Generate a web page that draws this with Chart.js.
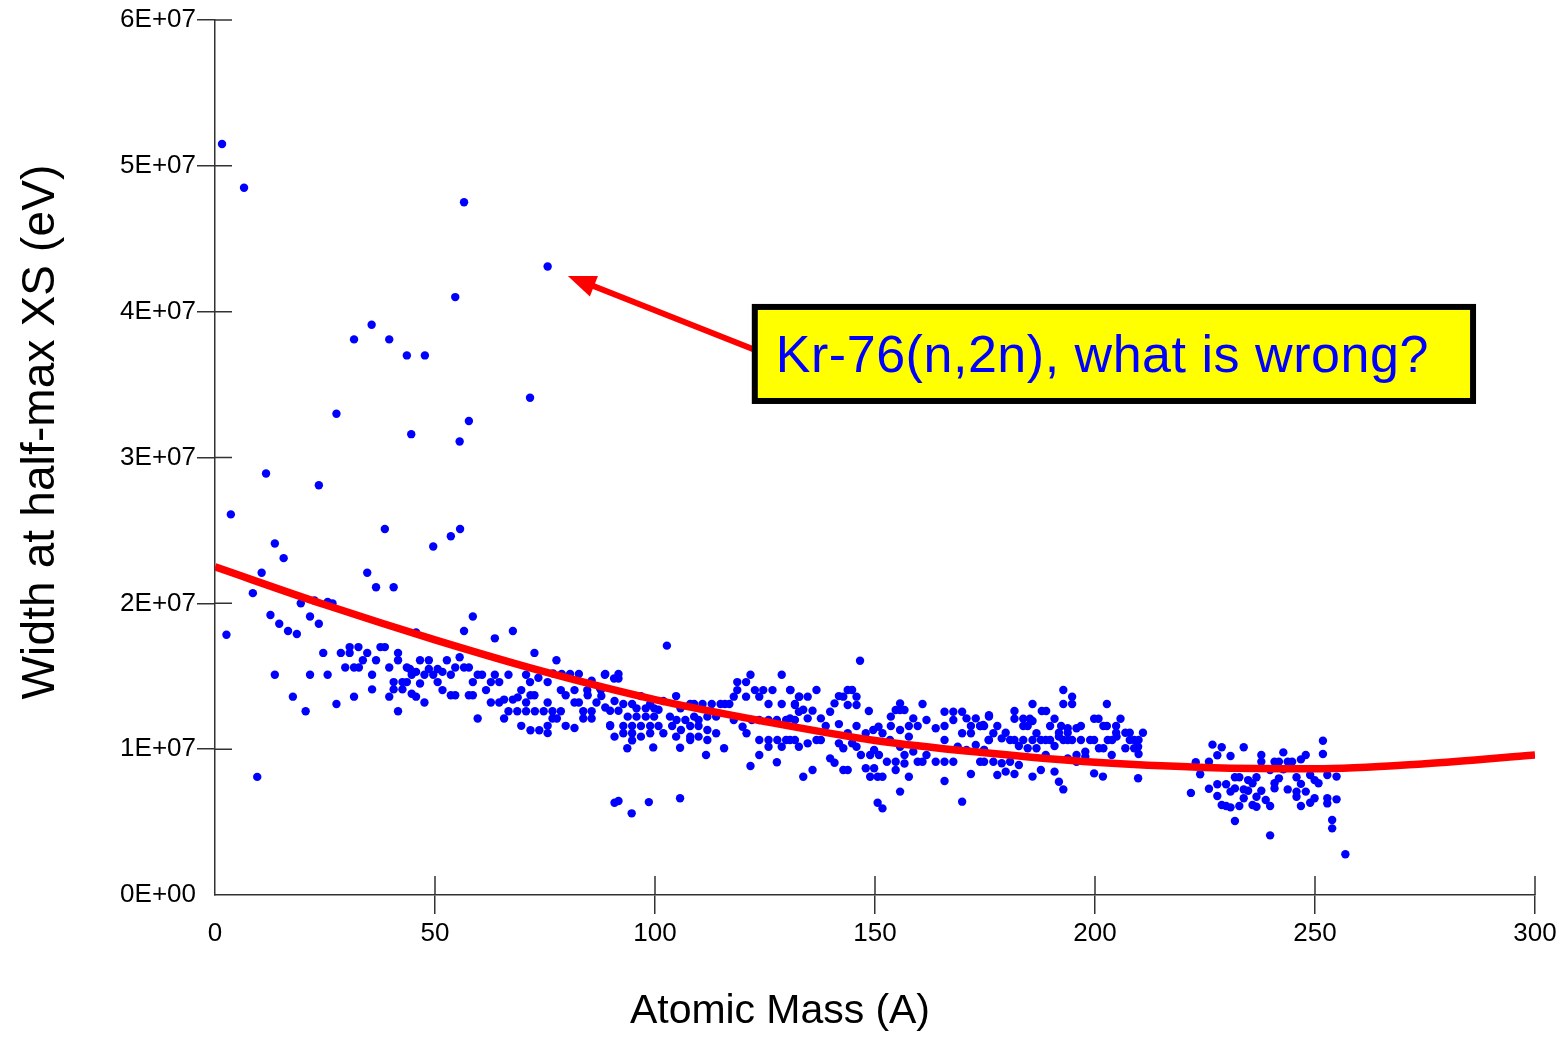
<!DOCTYPE html>
<html><head><meta charset="utf-8">
<script src="https://cdn.jsdelivr.net/npm/chart.js@4/dist/chart.umd.min.js"></script>
<style>html,body{margin:0;padding:0;background:#fff;}#wrap{width:1565px;height:1037px;}</style>
</head><body><div id="wrap"><canvas id="c" width="1565" height="1037"></canvas></div>
<script>
// ---- data: atomic mass A and width at half max (units of 1E+07 eV) ----
const massA = [
1.6,6.6,56.6,75.6,54.6,35.6,31.6,39.6,43.6,47.7,
71.6,27.6,57.7,44.6,55.6,11.6,23.6,3.6,38.6,55.7,
53.6,49.6,13.6,15.6,
10.6,34.6,36.6,40.6,8.6,19.5,22.6,25.6,26.7,12.6,
21.6,14.6,23.6,16.6,18.6,2.6,45.7,24.6,28.6,30.6,
30.6,32.6,34.6,33.6,36.6,37.6,38.6,41.6,41.6,29.6,
31.6,32.7,39.6,43.6,35.7,44.7,45.7,13.6,21.6,25.6,
40.6,42.6,43.6,46.6,35.7,40.6,42.6,44.7,45.7,17.7,
31.6,39.6,27.6,20.6,41.6,9.6,
58.6,56.6,63.6,67.7,72.6,55.6,77.6,46.6,48.6,52.7,
44.3,48.6,50.6,51.7,54.6,56.6,57.7,47.6,49.6,53.6,
59.7,60.7,63.6,66.7,70.7,73.5,76.8,78.8,80.7,82.7,
85.6,88.6,50.6,58.6,62.7,64.6,71.6,75.6,51.7,61.6,
69.6,78.6,81.7,84.6,87.7,53.6,54.6,57.7,58.6,71.7,
72.6,79.7,84.7,47.6,62.7,64.6,65.7,67.7,68.8,70.7,
75.6,81.7,82.7,86.7,66.7,68.7,70.7,72.7,74.7,76.7,
78.6,83.7,85.6,59.7,65.7,76.7,77.7,83.7,85.6,89.8,
69.6,79.7,75.6,81.7,71.7,73.7,75.6,
102.7,88.7,90.7,91.7,91.7,87.5,87.8,90.8,92.8,94.8,
95.8,96.8,97.9,98.9,99.8,100.8,101.9,104.8,105.8,108.0,
108.9,110.8,112.9,114.9,115.9,116.9,117.9,118.7,118.7,120.7,
121.7,120.7,122.7,123.7,124.6,125.8,126.7,128.8,128.8,130.8,
131.8,132.8,
88.7,89.8,91.7,93.8,95.8,97.9,99.8,103.4,104.9,106.9,
108.9,109.9,111.9,113.9,89.8,92.8,94.8,96.8,98.9,100.8,
103.9,105.9,108.0,109.9,111.9,117.9,119.9,122.0,123.7,125.8,
127.7,129.8,131.8,90.8,92.8,94.8,96.8,98.9,101.9,104.8,
108.0,109.9,111.9,113.9,120.8,123.7,125.8,127.8,129.8,131.8,
94.8,108.0,93.7,99.6,105.7,111.6,115.7,123.7,125.8,128.8,
121.7,127.7,90.8,91.7,94.7,98.6,105.7,
146.6,130.7,132.7,134.7,136.7,131.8,133.7,135.8,132.7,134.7,
130.7,137.7,138.8,139.8,140.8,141.8,142.8,143.8,144.8,145.8,
143.8,145.8,148.6,141.8,143.8,145.8,147.9,149.6,150.8,151.7,
153.6,154.7,155.7,155.7,156.7,153.6,155.7,157.7,158.7,159.7,
160.8,161.7,163.8,165.8,165.8,167.8,167.8,169.8,170.8,171.8,
172.9,173.9,174.8,175.9,169.8,171.8,
130.7,132.7,134.7,136.7,137.7,141.8,142.8,144.8,145.8,146.8,
148.9,150.9,149.8,153.4,155.7,157.7,158.7,159.7,160.8,161.7,
163.8,165.8,165.8,167.8,168.8,170.8,172.9,174.8,175.9,154.7,
152.7,156.7,156.7,139.8,140.8,142.8,143.8,147.9,149.8,148.9,
150.6,151.7,154.7,157.7,133.7,135.8,155.7,165.8,171.8,169.8,
150.6,151.7,
175.9,181.7,187.9,188.9,185.8,192.8,192.8,194.8,194.8,202.7,
181.7,183.7,185.2,185.8,183.7,184.7,190.8,189.8,192.3,193.8,
193.8,191.8,195.8,196.8,199.8,200.8,201.9,202.7,204.8,205.8,
204.8,206.9,207.9,208.9,210.9,209.9,
173.9,174.6,176.9,177.8,178.8,179.7,180.7,181.7,182.7,183.7,
184.7,185.8,186.7,186.7,187.7,188.8,189.8,190.8,191.8,192.8,
193.8,194.8,196.8,197.8,198.9,199.8,200.9,202.9,203.9,204.9,
206.9,207.9,208.9,209.8,209.9,203.8,201.9,195.8,197.8,175.8,
174.8,
173.9,174.8,176.9,178.8,180.7,182.7,177.8,179.7,181.7,185.8,
187.7,188.8,190.8,191.8,192.8,193.8,195.8,199.8,201.8,209.8,
221.8,222.9,223.9,225.9,225.9,226.7,227.8,228.8,227.8,227.8,
228.8,229.8,229.8,230.8,230.8,230.8,231.8,231.8,231.8,232.8,
232.8,233.8,233.8,233.8,234.8,234.8,235.8,235.8,236.7,236.7,
236.7,237.8,237.8,237.8,238.8,239.8,239.8,239.8,240.8,240.8,
240.8,241.8,241.8,242.8,242.8,243.8,243.8,244.8,245.8,245.8,
245.8,246.8,246.8,246.8,247.9,247.9,248.9,248.9,249.9,249.9,
250.8,251.8,251.8,252.8,252.8,252.8,253.9,253.9,254.9,254.9,
256.9
];
const widthE7 = [
5.15,4.85,4.75,4.31,4.10,3.91,3.81,3.81,3.70,3.70,
3.41,3.30,3.25,3.16,3.11,2.89,2.81,2.61,2.51,2.51,
2.46,2.39,2.41,2.31,
2.21,2.21,2.11,2.11,2.07,2.00,2.02,2.01,2.00,1.92,
1.91,1.86,1.86,1.81,1.79,1.785,1.80,1.66,1.66,1.70,
1.66,1.70,1.66,1.61,1.61,1.70,1.70,1.66,1.61,1.56,
1.56,1.56,1.56,1.56,1.51,1.51,1.53,1.51,1.51,1.51,
1.46,1.46,1.46,1.45,1.41,1.41,1.41,1.38,1.36,1.36,
1.36,1.36,1.31,1.26,1.26,0.81,
1.91,1.81,1.76,1.81,1.66,1.63,1.61,1.61,1.61,1.61,
1.55,1.55,1.55,1.53,1.56,1.56,1.56,1.51,1.51,1.51,
1.51,1.51,1.51,1.51,1.51,1.49,1.52,1.515,1.515,1.515,
1.47,1.51,1.46,1.46,1.46,1.46,1.46,1.46,1.405,1.405,
1.405,1.405,1.405,1.405,1.405,1.37,1.37,1.37,1.37,1.37,
1.37,1.37,1.37,1.32,1.32,1.32,1.34,1.34,1.355,1.32,
1.32,1.32,1.32,1.32,1.26,1.26,1.26,1.26,1.26,1.26,
1.26,1.26,1.26,1.21,1.21,1.21,1.21,1.21,1.21,1.165,
1.16,1.16,1.16,1.145,1.13,1.13,1.11,
1.71,1.515,1.485,1.515,1.485,1.417,1.364,1.33,1.31,1.31,
1.28,1.364,1.28,1.31,1.28,1.27,1.33,1.364,1.28,1.31,
1.31,1.31,1.31,1.31,1.31,1.31,1.36,1.46,1.405,1.46,
1.51,1.36,1.405,1.36,1.405,1.31,1.405,1.51,1.31,1.405,
1.31,1.36,
1.286,1.263,1.263,1.223,1.223,1.223,1.223,1.223,1.20,1.20,
1.223,1.20,1.223,1.223,1.159,1.159,1.159,1.159,1.159,1.159,
1.159,1.131,1.159,1.159,1.131,1.20,1.154,1.20,1.20,1.20,
1.20,1.20,1.20,1.086,1.109,1.109,1.086,1.109,1.109,1.086,
1.086,1.086,1.063,1.109,1.109,1.063,1.063,1.063,1.063,1.063,
1.06,1.063,1.006,1.012,1.01,0.96,1.006,0.96,1.017,1.017,
0.885,0.91,0.633,0.645,0.56,0.637,0.663,
1.606,1.406,1.36,1.36,1.406,1.303,1.27,1.264,1.257,1.211,
1.211,1.211,1.159,1.257,1.314,1.364,1.36,1.406,1.406,1.36,
1.303,1.303,1.262,1.172,1.109,1.159,1.109,1.131,1.154,1.109,
1.223,1.269,1.314,1.269,1.269,1.159,1.131,1.159,1.211,1.159,
1.31,1.2,1.143,1.257,1.159,1.257,1.2,1.257,1.211,1.159,
1.211,1.159,1.159,1.223,1.109,1.109,
1.063,1.017,1.04,1.063,1.063,1.04,1.006,1.04,1.017,0.96,
0.96,0.96,0.994,1.063,1.017,1.086,0.983,0.914,0.914,0.96,
0.914,1.063,0.914,0.914,1.017,0.994,1.029,0.994,1.063,0.914,
0.914,0.96,0.902,0.937,0.907,0.857,0.857,0.869,0.869,0.811,
0.811,0.811,0.857,0.811,0.811,0.857,0.709,0.782,0.83,0.64,
0.633,0.594,
1.233,1.262,1.262,1.262,1.31,1.406,1.31,1.31,1.36,1.31,
1.209,1.209,1.209,1.193,1.159,1.159,1.209,1.159,1.159,1.143,
1.113,1.113,1.143,1.159,1.209,1.209,1.159,1.159,1.159,1.209,
1.113,1.113,1.113,1.063,1.113,1.063,
1.159,1.166,1.109,1.159,1.074,1.113,1.063,1.063,1.022,1.063,
1.006,1.063,1.109,1.006,1.063,1.063,1.063,1.022,1.086,1.063,
1.063,1.063,1.063,0.983,1.063,1.063,1.006,1.063,1.063,1.086,
1.006,1.063,1.006,1.017,0.967,0.96,1.006,0.96,0.948,1.063,
0.994,
0.914,0.914,0.914,0.903,0.914,0.891,0.823,0.846,0.830,0.812,
0.857,0.960,0.846,0.777,0.724,0.937,0.914,0.834,0.812,0.801,
0.70,0.91,0.828,0.914,0.729,1.031,0.958,1.013,0.759,0.679,
0.617,0.759,0.61,0.953,0.709,0.601,0.807,0.731,0.507,0.807,
0.61,1.013,0.724,0.663,0.788,0.715,0.766,0.617,0.807,0.674,
0.605,0.96,0.914,0.715,0.651,0.857,0.61,0.409,0.914,0.766,
0.731,0.914,0.8,0.978,0.862,0.914,0.724,0.914,0.807,0.709,
0.674,0.93,0.762,0.61,0.96,0.709,0.823,0.633,0.788,0.663,
0.766,1.058,0.967,0.823,0.663,0.628,0.514,0.457,0.812,0.656,
0.279
];
// fitted trend curve
const curveA   = [0, 25, 50, 75, 100, 125, 150, 175, 200, 225, 250, 275, 300];
const curveE7  = [2.25, 1.99, 1.75, 1.53, 1.34, 1.19, 1.06, 0.975, 0.91, 0.875, 0.865, 0.90, 0.96];
const Y_UNIT = 1e7;
// axes
const xTicks = [0, 50, 100, 150, 200, 250, 300];
const xTickLabels = ['0', '50', '100', '150', '200', '250', '300'];
const yTicksE7 = [0, 1, 2, 3, 4, 5, 6];
const yTickLabels = ['0E+00', '1E+07', '2E+07', '3E+07', '4E+07', '5E+07', '6E+07'];
const xTitle = 'Atomic Mass (A)';
const yTitle = 'Width at half-max XS (eV)';
// annotation (data coordinates: A, 1E+07 eV)
const noteText = 'Kr-76(n,2n), what is wrong?';
const noteArrowTip = [80.2, 4.245];
const noteArrowTail = [122.5, 3.74];
const noteBox = [122.0, 4.053, 286.6, 3.367];

const AXIS_COLOR = '#333333';
const FONT = '"Liberation Sans", Arial, sans-serif';
const TICK_FONT = {family: FONT, size: 26};

const scatterData = massA.map((a, i) => ({x: a, y: widthE7[i] * Y_UNIT}));
const curveData = curveA.map((a, i) => ({x: a, y: curveE7[i] * Y_UNIT}));

function fitText(ctx, text, target) {
  ctx.letterSpacing = '0px';
  const w0 = ctx.measureText(text).width;
  if ('letterSpacing' in ctx) {
    ctx.letterSpacing = ((target - w0) / text.length).toFixed(2) + 'px';
    return 1;
  }
  return target / w0;
}

const innerTicks = {
  id: 'innerTicks',
  beforeDatasetsDraw(chart) {
    const {ctx, chartArea: a} = chart;
    const x = chart.scales.x, y = chart.scales.y;
    ctx.save();
    ctx.strokeStyle = AXIS_COLOR; ctx.lineWidth = 1.5;
    ctx.beginPath();
    y.ticks.forEach(t => {
      if (t.value === 0) return;
      const py = y.getPixelForValue(t.value);
      ctx.moveTo(a.left, py); ctx.lineTo(a.left + 17, py);
    });
    x.ticks.forEach(t => {
      if (t.value === 0) return;
      const px = x.getPixelForValue(t.value);
      ctx.moveTo(px, a.bottom); ctx.lineTo(px, a.bottom - 19);
    });
    ctx.stroke();
    ctx.restore();
  }
};

const decorations = {
  id: 'decorations',
  afterDraw(chart) {
    const {ctx} = chart;
    const x = chart.scales.x, y = chart.scales.y;
    const px = v => x.getPixelForValue(v), py = v => y.getPixelForValue(v * Y_UNIT);
    // axis titles
    ctx.save();
    ctx.fillStyle = '#000';
    ctx.textBaseline = 'middle';
    ctx.textAlign = 'center';
    ctx.font = '41px ' + FONT;
    let s = fitText(ctx, xTitle, 300);
    ctx.translate(780, 1012); ctx.scale(s, 1);
    ctx.fillText(xTitle, 0, 0);
    ctx.restore();

    ctx.save();
    ctx.fillStyle = '#000';
    ctx.textBaseline = 'middle';
    ctx.textAlign = 'center';
    ctx.font = '46px ' + FONT;
    s = fitText(ctx, yTitle, 535);
    ctx.translate(41, 432); ctx.rotate(-Math.PI / 2); ctx.scale(s, 1);
    ctx.fillText(yTitle, 0, 0);
    ctx.restore();

    // arrow
    const tx = px(noteArrowTip[0]), ty = py(noteArrowTip[1]);
    const sx = px(noteArrowTail[0]), sy = py(noteArrowTail[1]);
    const ang = Math.atan2(ty - sy, tx - sx);
    const headLen = 28, headHalf = 11;
    ctx.save();
    ctx.strokeStyle = '#ff0000'; ctx.fillStyle = '#ff0000';
    ctx.lineWidth = 6;
    const bx = tx - Math.cos(ang) * (headLen - 4), by = ty - Math.sin(ang) * (headLen - 4);
    ctx.beginPath(); ctx.moveTo(sx, sy); ctx.lineTo(bx, by); ctx.stroke();
    ctx.beginPath();
    ctx.moveTo(tx, ty);
    ctx.lineTo(tx - Math.cos(ang) * headLen - Math.sin(ang) * headHalf, ty - Math.sin(ang) * headLen + Math.cos(ang) * headHalf);
    ctx.lineTo(tx - Math.cos(ang) * headLen + Math.sin(ang) * headHalf, ty - Math.sin(ang) * headLen - Math.cos(ang) * headHalf);
    ctx.closePath(); ctx.fill();
    ctx.restore();

    // box
    const L = px(noteBox[0]), T = py(noteBox[1]), R = px(noteBox[2]), B = py(noteBox[3]);
    ctx.save();
    ctx.fillStyle = '#000';
    ctx.fillRect(L, T, R - L, B - T);
    ctx.fillStyle = '#ffff00';
    ctx.fillRect(L + 6, T + 6, R - L - 12, B - T - 12);
    ctx.fillStyle = '#0000ff';
    ctx.font = '52px ' + FONT;
    ctx.textBaseline = 'alphabetic';
    ctx.textAlign = 'left';
    s = fitText(ctx, noteText, 653);
    ctx.translate(L + 24, T + 68); ctx.scale(s, 1);
    ctx.fillText(noteText, 0, 0);
    ctx.restore();
  }
};

new Chart(document.getElementById('c'), {
  type: 'scatter',
  data: {
    datasets: [
      {
        type: 'line', label: 'fit', data: curveData, order: 0,
        borderColor: '#ff0000', borderWidth: 7.5, pointRadius: 0,
        cubicInterpolationMode: 'monotone', fill: false
      },
      {
        label: 'width', data: scatterData, order: 1,
        backgroundColor: '#0000ff', borderColor: '#0000ff', borderWidth: 0,
        pointRadius: 4.2, pointHoverRadius: 4.2
      }
    ]
  },
  options: {
    responsive: false, animation: false, devicePixelRatio: 1,
    layout: {padding: {top: 20, right: 30, left: 0, bottom: 0}},
    plugins: {legend: {display: false}, tooltip: {enabled: false}},
    events: [],
    scales: {
      x: {
        type: 'linear', min: 0, max: 300, offset: false,
        afterFit(sc) { sc.height = 142; },
        afterBuildTicks(sc) { sc.ticks = xTicks.map(v => ({value: v})); },
        ticks: {
          autoSkip: false, maxRotation: 0, padding: 4, color: '#000',
          font: TICK_FONT,
          callback: v => xTickLabels[xTicks.indexOf(v)]
        },
        grid: {
          drawOnChartArea: false, drawTicks: true, tickLength: 19, lineWidth: 1.5,
          color: c => (c.tick && c.tick.value === 0) ? 'rgba(0,0,0,0)' : AXIS_COLOR
        },
        border: {display: true, color: AXIS_COLOR, width: 1.5},
        title: {display: false}
      },
      y: {
        type: 'linear', min: 0, max: 6 * Y_UNIT,
        afterFit(sc) { sc.width = 215; },
        afterBuildTicks(sc) { sc.ticks = yTicksE7.map(v => ({value: v * Y_UNIT})); },
        ticks: {
          autoSkip: false, padding: 1, color: '#000',
          font: TICK_FONT,
          callback: v => yTickLabels[yTicksE7.indexOf(Math.round(v / Y_UNIT))]
        },
        grid: {
          drawOnChartArea: false, drawTicks: true, tickLength: 18, lineWidth: 1.5,
          color: c => (c.tick && c.tick.value === 0) ? 'rgba(0,0,0,0)' : AXIS_COLOR
        },
        border: {display: true, color: AXIS_COLOR, width: 1.5},
        title: {display: false}
      }
    }
  },
  plugins: [innerTicks, decorations]
});
</script>
</body></html>
